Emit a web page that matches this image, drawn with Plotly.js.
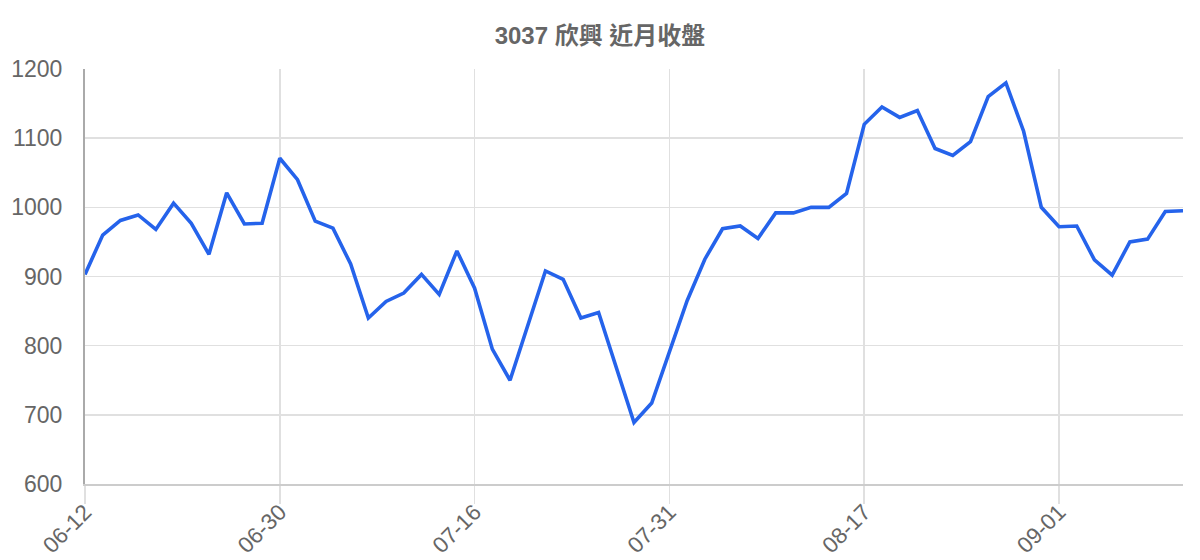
<!DOCTYPE html>
<html>
<head>
<meta charset="utf-8">
<script src="https://cdn.plot.ly/plotly-3.0.1.min.js"></script>
<style>
  html, body { margin: 0; padding: 0; background: #fff; }
  #chart { width: 1200px; height: 560px; }
</style>
</head>
<body>
<div id="chart"></div>
<script>
const dates = [
  "06-12","06-13","06-16","06-17","06-18","06-19","06-20","06-23","06-24","06-25","06-26",
  "06-30","07-01","07-02","07-03","07-04","07-07","07-08","07-09","07-10","07-11","07-14",
  "07-16","07-17","07-18","07-21","07-22","07-23","07-24","07-25","07-28","07-29","07-30",
  "07-31","08-01","08-04","08-05","08-06","08-07","08-08","08-11","08-12","08-13","08-14",
  "08-17","08-18","08-19","08-20","08-21","08-22","08-25","08-26","08-27","08-28","08-29",
  "09-01","09-02","09-03","09-04","09-05","09-08","09-09","09-10"
];
const closes = [
  903, 960, 981, 989, 968, 1006, 977, 932, 1021, 976, 977,
  1071, 1040, 980, 970, 918, 840, 864, 876, 903, 874, 937,
  883, 795, 750, 827, 908, 896, 840, 848, 767, 689, 717,
  791, 865, 925, 969, 973, 955, 992, 992, 1000, 1000, 1020,
  1120, 1145, 1130, 1140, 1085, 1075, 1095, 1160, 1180, 1110, 1000,
  972, 973, 924, 902, 950, 954, 994, 995
];
const tickDates = ["06-12","06-30","07-16","07-31","08-17","09-01"];
const yTicks = [600, 700, 800, 900, 1000, 1100, 1200];
const titleText = "3037 欣興 近月收盤";

const font = "Liberation Sans, Arial, 'Noto Sans CJK TC', sans-serif";

Plotly.newPlot("chart", [{
  type: "scatter",
  mode: "lines",
  x: dates,
  y: closes,
  line: { color: "#2563eb", width: 3.6 },
  hoverinfo: "x+y"
}], {
  width: 1200,
  height: 560,
  margin: { l: 85, r: 17, t: 69, b: 76 },
  paper_bgcolor: "#ffffff",
  plot_bgcolor: "#ffffff",
  showlegend: false,
  title: {
    text: "<b>" + titleText + "</b>",
    x: 0.5, xanchor: "center",
    y: 0.937, yanchor: "middle",
    font: { family: font, size: 24, color: "#666666" }
  },
  xaxis: {
    type: "category",
    range: [0, dates.length - 1],
    tickmode: "array",
    tickvals: tickDates,
    ticktext: tickDates,
    tickangle: -45,
    showgrid: true,
    gridcolor: "#e0e0e0",
    gridwidth: 1.5,
    ticks: "outside",
    ticklen: 18,
    tickcolor: "#e0e0e0",
    tickwidth: 1.5,
    ticklabelstandoff: -14,
    showline: true,
    linecolor: "#cccccc",
    linewidth: 2,
    zeroline: false,
    tickfont: { family: font, size: 22.5, color: "#666666" },
    fixedrange: true
  },
  yaxis: {
    range: [600, 1200],
    tickmode: "array",
    tickvals: yTicks,
    showgrid: true,
    gridcolor: "#e0e0e0",
    gridwidth: 1.5,
    showline: true,
    linecolor: "#aaaaaa",
    linewidth: 2,
    ticks: "",
    ticklabelstandoff: 16,
    zeroline: false,
    tickfont: { family: font, size: 23, color: "#666666" },
    fixedrange: true
  }
}, { displayModeBar: false, staticPlot: true });
</script>
</body>
</html>
